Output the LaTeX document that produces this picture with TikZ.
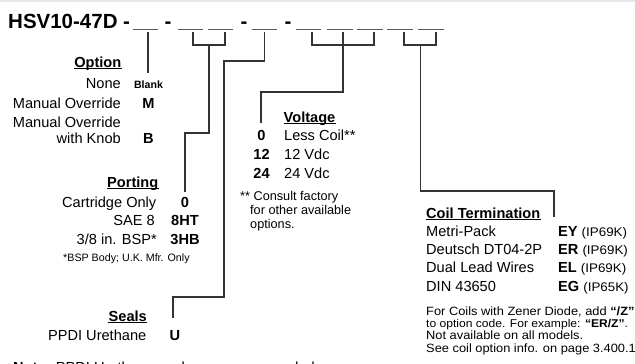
\documentclass[tikz,border=0pt]{standalone}
\usepackage{fontspec}
\setmainfont{Liberation Sans}
\newfontfamily\widesans[Ligatures=TeX,FakeStretch=1.07]{Liberation Sans}
\usetikzlibrary{calc}
\definecolor{cLine}{HTML}{333333}
\definecolor{cSlot}{HTML}{5A5A5A}
\definecolor{cBand}{HTML}{E4E8F0}

\tikzset{
  ttl/.style={inner sep=0pt,font=\bfseries\fontsize{20.5}{24}\selectfont},
  txt/.style={inner sep=0pt,font=\fontsize{14.6}{16}\selectfont},
  hd/.style={inner sep=0pt,font=\bfseries\fontsize{14.6}{16}\selectfont},
  ordcode/.style={inner sep=0pt,anchor=base,font=\bfseries\fontsize{14.6}{16}\selectfont},
  fnote/.style={inner sep=0pt,anchor=base west,font=\fontsize{12.7}{14}\selectfont},
  coilnote/.style={fnote,font=\widesans\fontsize{12}{12.4}\selectfont},
  slot/.style={minimum width=25pt,minimum height=0pt,inner sep=0pt},
  conn/.style={draw=cLine,line width=1.3pt},
  uline/.style={draw=black,line width=0.9pt}
}

\begin{document}
\begin{tikzpicture}[x=1pt,y=-1pt]
  \useasboundingbox (0,0) rectangle (635,364);
  \clip (0,0) rectangle (635,364);
  \fill[white] (0,0) rectangle (635,364);
  \fill[cBand] (0,0) rectangle (635,2.2);

  % model code with its blanks
  \node[ttl,anchor=base west] (title) at (8,28) {HSV10-47D -};
  \foreach \n/\x in {1/168,2/244,3/288}
    \node[ttl,anchor=base] (dash\n) at (\x,28) {-};
  \foreach \n/\x in {1/145.5,2/190.5,3/220.5,4/264.5,5/308.5,6/340,7/370,8/400,9/431}
    \node[slot] (b\n) at (\x,29) {};
  \foreach \n in {1,...,9}
    \draw[cSlot,line width=0.9pt] (b\n.west) -- (b\n.east);

  % free ends of the connectors
  \coordinate (optEnd) at (148,73);
  \coordinate (portJ) at (209,45);
  \coordinate (portEnd) at (185,192);
  \coordinate (sealEnd) at (173,318);
  \coordinate (voltEnd) at (261,123);
  \coordinate (coilJ) at (420.5,45);
  \coordinate (coilEnd) at (554,217);

  \draw[conn] ($(b1)+(2.5,3)$) -- (optEnd);
  \draw[conn] ($(b2)+(2.5,3)$) |- ($(b3)+(4.5,16)$) -- ($(b3)+(4.5,3)$);
  \draw[conn] (portJ) -- ++(0,88) -| (portEnd);
  \draw[conn] ($(b4)+(0,3)$) -- ++(0,29) -- ++(-40.5,0) -- ++(0,236) -| (sealEnd);
  \draw[conn] ($(b5)+(3.5,3)$) |- ($(b7)+(4,16)$) -- ($(b7)+(4,3)$);
  \draw[conn] ($(b6)+(3,3)$) -- ++(0,60) -| (voltEnd);
  \draw[conn] ($(b8)+(4,3)$) |- ($(b9)+(5,16)$) -- ($(b9)+(5,3)$);
  \draw[conn] (coilJ) -- ++(0,146) -| (coilEnd);

  % option
  \node[hd,anchor=base east] (optHead) at (121.5,67) {Option};
  \node[txt,anchor=base east] (optNone) at (121,88) {None};
  \node[txt,anchor=base east] (optMan) at (121,108) {Manual Override};
  \node[txt,anchor=base east] (optKnobA) at (121,127) {Manual Override};
  \node[txt,anchor=base east] (optKnobB) at (121,143) {with Knob};
  \node[ordcode,font=\bfseries\fontsize{10.6}{12}\selectfont] (cBlank) at (148.5,88) {Blank};
  \node[ordcode] (cM) at (148.5,108) {M};
  \node[ordcode] (cB) at (148.5,143) {B};

  % porting
  \node[hd,anchor=base east] (portHead) at (158.5,187) {Porting};
  \node[txt,anchor=base east] (portCart) at (156.5,207) {Cartridge Only};
  \node[txt,anchor=base east] (portSae) at (155,225) {SAE 8};
  \node[txt,anchor=base east] (portBsp) at (157,244) {3/8 in. BSP*};
  \node[fnote,font=\fontsize{10.7}{12}\selectfont] (portFoot) at (63,261) {*BSP Body; U.K. Mfr. Only};
  \node[ordcode] (c0) at (185,207) {0};
  \node[ordcode] (c8HT) at (185,225) {8HT};
  \node[ordcode] (c3HB) at (185,244) {3HB};

  % seals
  \node[hd,anchor=base east] (sealHead) at (147,321) {Seals};
  \node[txt,anchor=base east] (sealPpdi) at (146.5,340) {PPDI Urethane};
  \node[ordcode] (cU) at (175,340) {U};
  \node[txt,anchor=base west] (note) at (13,372.5) {\textbf{Note:} PPDI Urethane seals are recommended};

  % voltage
  \node[hd,anchor=base west] (voltHead) at (283.5,122) {Voltage};
  \node[txt,anchor=base west] (voltLess) at (284,140) {Less Coil**};
  \node[txt,anchor=base west] (volt12) at (284,159) {12 Vdc};
  \node[txt,anchor=base west] (volt24) at (284,178) {24 Vdc};
  \node[ordcode] (cV0) at (261.5,140) {0};
  \node[ordcode] (cV12) at (261.5,159) {12};
  \node[ordcode] (cV24) at (261.5,178) {24};
  \node[fnote] (voltFootA) at (240,200) {** Consult factory};
  \node[fnote] (voltFootB) at (250,214) {for other available};
  \node[fnote] (voltFootC) at (250,228) {options.};

  % coil termination
  \node[hd,anchor=base west] (coilHead) at (426,218) {Coil Termination};
  \foreach \n/\y/\t/\c/\ip in {1/236/Metri-Pack/EY/69K,2/254/Deutsch DT04-2P/ER/69K,
                                3/272/Dual Lead Wires/EL/69K,4/291/DIN 43650/EG/65K}{
    \node[txt,anchor=base west] (coil\n) at (426,\y) {\t};
    \node[ordcode,anchor=base west] (coilCode\n) at (558,\y)
      {\c\ \widesans\mdseries\fontsize{12.5}{14}\selectfont(IP\ip)};
  }
  \node[coilnote] (coilFootA) at (426,315) {For Coils with Zener Diode, add \textbf{``/Z''}};
  \node[coilnote,font=\widesans\fontsize{11.3}{12.4}\selectfont] (coilFootB) at (426,327) {to option code. For example: \textbf{``ER/Z''}.};
  \node[coilnote] (coilFootC) at (426,339.5) {Not available on all models.};
  \node[coilnote] (coilFootD) at (426,352) {See coil option info. on page 3.400.1};

  \foreach \h in {optHead,portHead,sealHead,voltHead,coilHead}
    \draw[uline] ([yshift=-1.6pt]\h.base west) -- ([yshift=-1.6pt]\h.base east);
\end{tikzpicture}
\end{document}
